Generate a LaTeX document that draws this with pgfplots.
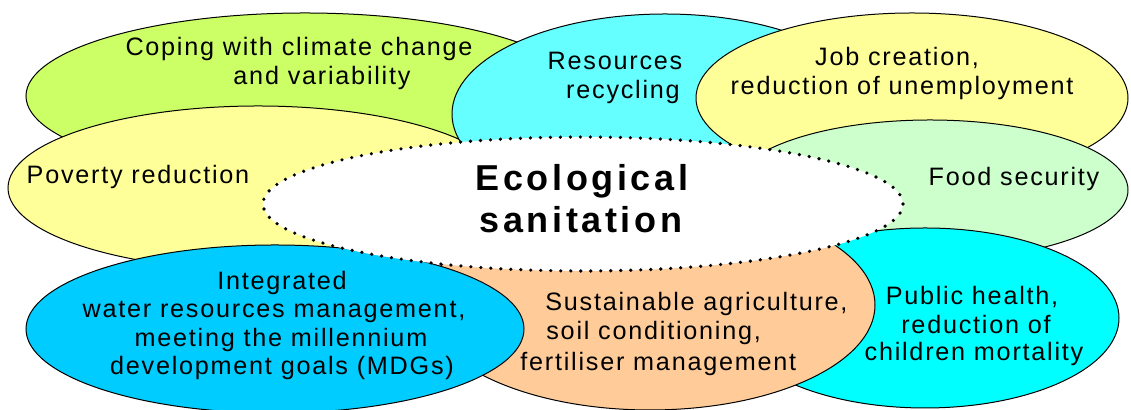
\documentclass[border=0pt]{standalone}
\usepackage{fontspec}
\setmainfont{Liberation Sans}[LetterSpace=7]
\usepackage{pgfplots}
\pgfplotsset{compat=1.18}

\definecolor{lime}{HTML}{CCFF66}
\definecolor{paleyellow}{HTML}{FFFF99}
\definecolor{lightcyan}{HTML}{66FFFF}
\definecolor{palegreen}{HTML}{CCFFCC}
\definecolor{purecyan}{HTML}{00FFFF}
\definecolor{peach}{HTML}{FFCC99}
\definecolor{skyblue}{HTML}{00CCFF}

% ellipse: colour, centre x, centre y, x radius, y radius (pixel units, y up)
\newcommand{\blob}[5]{\filldraw[fill=#1, draw=black, line width=0.5pt]
  (axis cs:#2,#3) ellipse [x radius=#4, y radius=#5];}

\begin{document}
\begin{tikzpicture}[font=\fontsize{12.6}{14.5}\selectfont]
\begin{axis}[
    width=565.5pt, height=205pt,
    scale only axis,
    xmin=0, xmax=1131, ymin=0, ymax=410,
    hide axis,
]
\blob{lime}{305}{314}{279}{83}
\blob{paleyellow}{258}{222}{250}{82}
\blob{lightcyan}{665}{296}{213}{100}
\blob{paleyellow}{912}{312}{216}{85}
\blob{palegreen}{930}{220}{198}{70}
\blob{purecyan}{925}{92}{194}{90}
\blob{peach}{650}{105}{225}{105}
\blob{skyblue}{275}{81}{249}{84}
\filldraw[fill=white, draw=black, line width=1.8pt, line cap=round,
    dash pattern=on 0pt off 5pt]
  (axis cs:583,206) ellipse [x radius=320, y radius=67];

\node[anchor=base] at (axis cs:299,354) {Coping with climate change};
\node[anchor=base] at (axis cs:322,325) {and variability};
\node[anchor=base] at (axis cs:615,340) {Resources};
\node[anchor=base] at (axis cs:623,311) {recycling};
\node[anchor=base] at (axis cs:897,344) {Job creation,};
\node[anchor=base] at (axis cs:902,315) {reduction of unemployment};
\node[anchor=base] at (axis cs:138,226) {Poverty reduction};
\node[anchor=base] at (axis cs:1014,224) {Food security};
\node[anchor=base, font=\fontsize{18}{21}\selectfont\bfseries\addfontfeature{LetterSpace=10}]
  at (axis cs:582,219) {Ecological};
\node[anchor=base, font=\fontsize{18}{21}\selectfont\bfseries\addfontfeature{LetterSpace=10}]
  at (axis cs:581,177) {sanitation};
\node[anchor=base] at (axis cs:282,120) {Integrated};
\node[anchor=base] at (axis cs:274,92) {water resources management,};
\node[anchor=base] at (axis cs:281,63) {meeting the millennium};
\node[anchor=base] at (axis cs:282,35) {development goals (MDGs)};
\node[anchor=base west, inner xsep=0pt] at (axis cs:545,99) {Sustainable agriculture,};
\node[anchor=base west, inner xsep=0pt] at (axis cs:546,70) {soil conditioning,};
\node[anchor=base west, inner xsep=0pt] at (axis cs:520,39) {fertiliser management};
\node[anchor=base] at (axis cs:972,105) {Public health,};
\node[anchor=base] at (axis cs:976,76) {reduction of};
\node[anchor=base] at (axis cs:974,49) {children mortality};
\end{axis}
\pgfresetboundingbox
\path[use as bounding box] (current axis.south west) rectangle (current axis.north east);
\end{tikzpicture}
\end{document}
